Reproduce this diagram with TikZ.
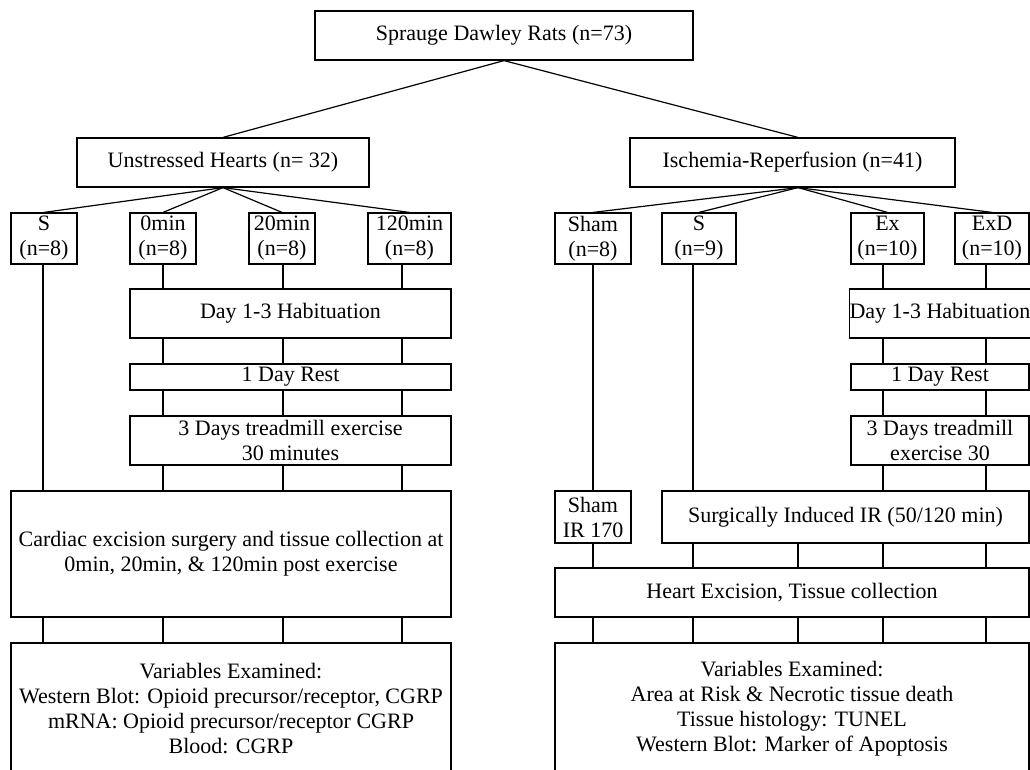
\documentclass[tikz,border=0pt]{standalone}
\usepackage{fontspec}
\setmainfont{Liberation Serif}
\begin{document}
\begin{tikzpicture}[x=1pt,y=-1pt,line width=1.2pt,
  box/.style={draw,rectangle,inner sep=0pt,align=center,font=\fontsize{22}{25}\selectfont}]
  \useasboundingbox (0,0) rectangle (1030,769);

  \node[box,minimum width=378pt,minimum height=49pt] (rats) at (504,35.5) {Sprauge Dawley Rats (n=73)};
  \node[box,minimum width=292pt,minimum height=49pt] (uh) at (223,162.5) {Unstressed Hearts (n= 32)};
  \node[box,minimum width=325pt,minimum height=49pt] (ir) at (792.5,162.5) {Ischemia-Reperfusion (n=41)};

  % groups
  \node[box,minimum width=66pt,minimum height=51pt] (ls) at (44,238.5) {S\\(n=8)};
  \node[box,minimum width=66pt,minimum height=51pt] (l0) at (163,238.5) {0min\\(n=8)};
  \node[box,minimum width=66pt,minimum height=51pt] (l20) at (282,238.5) {20min\\(n=8)};
  \node[box,minimum width=83pt,minimum height=51pt] (l120) at (409.5,238.5) {120min\\(n=8)};
  \node[box,minimum width=76pt,minimum height=51pt] (rsham) at (593,238.5) {Sham\\(n=8)};
  \node[box,minimum width=74pt,minimum height=51pt] (rs) at (699,238.5) {S\\(n=9)};
  \node[box,minimum width=73pt,minimum height=51pt] (rex) at (887.5,238.5) {Ex\\(n=10)};
  \node[box,minimum width=74pt,minimum height=51pt] (rexd) at (992,238.5) {ExD\\(n=10)};

  % left protocol
  \node[box,minimum width=321pt,minimum height=49pt] (lhab) at (290.5,313.5) {Day 1-3 Habituation};
  \node[box,minimum width=321pt,minimum height=26pt] (lrest) at (290.5,377) {1 Day Rest};
  \node[box,minimum width=321pt,minimum height=49pt] (ltread) at (290.5,440.5) {3 Days treadmill exercise\\30 minutes};
  \node[box,minimum width=440pt,minimum height=126pt] (card) at (231,554) {Cardiac excision surgery and tissue collection at\\0min, 20min, \& 120min post exercise};
  \node[box,minimum width=440pt,minimum height=132pt] (lvar) at (231,709) {Variables Examined:\\Western Blot: Opioid precursor/receptor, CGRP\\mRNA: Opioid precursor/receptor CGRP\\Blood: CGRP};

  % right protocol
  \node[box,minimum width=178pt,minimum height=49pt] (rhab) at (940,313.5) {Day 1-3 Habituation};
  \node[box,minimum width=178pt,minimum height=26pt] (rrest) at (940,377) {1 Day Rest};
  \node[box,minimum width=178pt,minimum height=49pt] (rtread) at (940,440.5) {3 Days treadmill\\exercise 30};
  \node[box,minimum width=76pt,minimum height=52pt] (shamir) at (593,517) {Sham\\IR 170};
  \node[box,minimum width=367pt,minimum height=52pt] (surg) at (845.5,517) {Surgically Induced IR (50/120 min)};
  \node[box,minimum width=474pt,minimum height=49pt] (heart) at (792,592.5) {Heart Excision, Tissue collection};
  \node[box,minimum width=474pt,minimum height=132pt] (rvar) at (792,709) {Variables Examined:\\Area at Risk \& Necrotic tissue death\\Tissue histology: TUNEL\\Western Blot: Marker of Apoptosis};

  % columns of the vertical lines
  \coordinate (l1) at (43,0);
  \coordinate (l2) at (163,0);
  \coordinate (l3) at (283,0);
  \coordinate (l4) at (402,0);
  \coordinate (r1) at (593,0);
  \coordinate (r2) at (693,0);
  \coordinate (r3) at (798,0);
  \coordinate (r4) at (883,0);
  \coordinate (r5) at (986,0);

  \path
   (rats.south) edge (uh.north)
   (rats.south) edge (r3 |- ir.north)
   (uh.south) edge (ls.north)
   (uh.south) edge (l0.north)
   (uh.south) edge (l20.north)
   (uh.south) edge (l120.north)
   (r3 |- ir.south) edge (rsham.north)
   (r3 |- ir.south) edge (rs.north)
   (r3 |- ir.south) edge (rex.north)
   (r3 |- ir.south) edge (rexd.north);

  \path
   (l1 |- ls.south) edge (l1 |- card.north)
   (l2 |- l0.south) edge (l2 |- lhab.north)
   (l3 |- l20.south) edge (l3 |- lhab.north)
   (l4 |- l120.south) edge (l4 |- lhab.north)
   (l2 |- lhab.south) edge (l2 |- lrest.north)
   (l3 |- lhab.south) edge (l3 |- lrest.north)
   (l4 |- lhab.south) edge (l4 |- lrest.north)
   (l2 |- lrest.south) edge (l2 |- ltread.north)
   (l3 |- lrest.south) edge (l3 |- ltread.north)
   (l4 |- lrest.south) edge (l4 |- ltread.north)
   (l2 |- ltread.south) edge (l2 |- card.north)
   (l3 |- ltread.south) edge (l3 |- card.north)
   (l4 |- ltread.south) edge (l4 |- card.north)
   (l1 |- card.south) edge (l1 |- lvar.north)
   (l2 |- card.south) edge (l2 |- lvar.north)
   (l3 |- card.south) edge (l3 |- lvar.north)
   (l4 |- card.south) edge (l4 |- lvar.north);

  \path
   (r1 |- rsham.south) edge (r1 |- shamir.north)
   (r2 |- rs.south) edge (r2 |- surg.north)
   (r4 |- rex.south) edge (r4 |- rhab.north)
   (r5 |- rexd.south) edge (r5 |- rhab.north)
   (r4 |- rhab.south) edge (r4 |- rrest.north)
   (r5 |- rhab.south) edge (r5 |- rrest.north)
   (r4 |- rrest.south) edge (r4 |- rtread.north)
   (r5 |- rrest.south) edge (r5 |- rtread.north)
   (r4 |- rtread.south) edge (r4 |- surg.north)
   (r5 |- rtread.south) edge (r5 |- surg.north)
   (r1 |- shamir.south) edge (r1 |- heart.north)
   (r2 |- surg.south) edge (r2 |- heart.north)
   (r3 |- surg.south) edge (r3 |- heart.north)
   (r4 |- surg.south) edge (r4 |- heart.north)
   (r5 |- surg.south) edge (r5 |- heart.north)
   (r1 |- heart.south) edge (r1 |- rvar.north)
   (r2 |- heart.south) edge (r2 |- rvar.north)
   (r3 |- heart.south) edge (r3 |- rvar.north)
   (r4 |- heart.south) edge (r4 |- rvar.north)
   (r5 |- heart.south) edge (r5 |- rvar.north);
\end{tikzpicture}
\end{document}
